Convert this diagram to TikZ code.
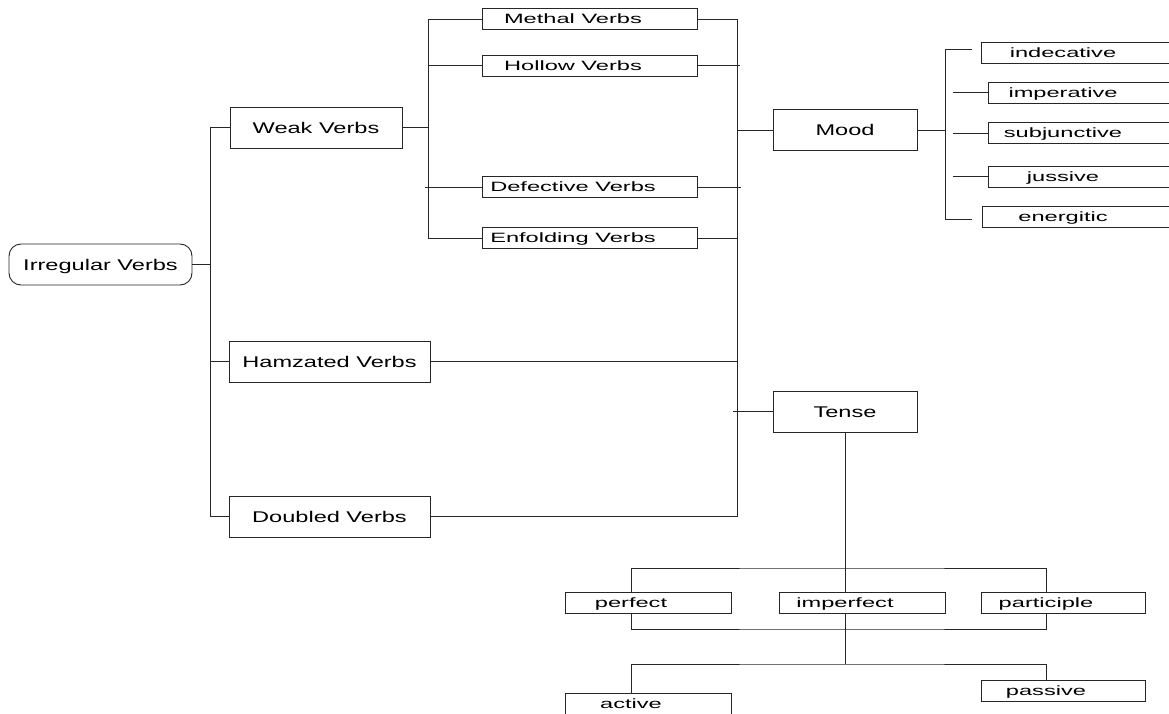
\documentclass[tikz,border=0pt]{standalone}
\usepackage{fontspec}
\newfontfamily\bigfont{Liberation Sans}[FakeStretch=1.52]
\newfontfamily\smallfont{Liberation Sans}[FakeStretch=1.75]
\begin{document}
\begin{tikzpicture}[x=1pt,y=-1pt,line width=0.9pt,color=black!85,
bigbox/.style={draw,rectangle,inner sep=0pt,minimum height=41pt,text height=11.1pt,text depth=0pt,text=black,font=\bigfont\fontsize{15.5}{18}\selectfont},
smallbox/.style={draw,rectangle,inner sep=0pt,minimum height=21pt,text height=9.7pt,text depth=0pt,text=black,font=\smallfont\fontsize{13.5}{16}\selectfont,execute at end node={\hspace*{34pt}}}]
\useasboundingbox (0,0) rectangle (1169,714);
\clip (0,0) rectangle (1169,714);
% main branches
\node[bigbox,rounded corners=12pt,minimum width=183pt] (irr) at (100.5,264.5) {Irregular Verbs};
\node[bigbox,minimum width=172pt] (weak) at (316,127.5) {Weak Verbs};
\node[bigbox,minimum width=201pt] (hamz) at (329.5,361.5) {Hamzated Verbs};
\node[bigbox,minimum width=201pt] (doub) at (329.5,516.5) {Doubled Verbs};
\node[bigbox,minimum width=144pt] (mood) at (845,130) {Mood};
\node[bigbox,minimum width=144pt] (tense) at (845,411.5) {Tense};
% weak verbs
\node[smallbox,minimum width=215pt] (methal) at (590,19) {Methal Verbs};
\node[smallbox,minimum width=215pt] (hollow) at (590,65.5) {Hollow Verbs};
\node[smallbox,minimum width=215pt] (defect) at (590,187) {Defective Verbs};
\node[smallbox,minimum width=215pt] (enfold) at (590,238) {Enfolding Verbs};
% mood
\node[smallbox,minimum width=198pt] (ind) at (1080,53) {indecative};
\node[smallbox,minimum width=184pt] (imp) at (1080,92.5) {imperative};
\node[smallbox,minimum width=184pt] (subj) at (1080,133) {subjunctive};
\node[smallbox,minimum width=184pt] (juss) at (1080,176.5) {jussive};
\node[smallbox,minimum width=196pt] (ener) at (1080,217) {energitic};
% tense
\node[smallbox,minimum width=166pt] (perf) at (648,602.5) {perfect};
\node[smallbox,minimum width=166pt] (imperf) at (862,602.5) {imperfect};
\node[smallbox,minimum width=164pt] (part) at (1063,602.5) {participle};
\node[smallbox,minimum width=166pt] (act) at (648,703.5) {active};
\node[smallbox,minimum width=164pt] (pass) at (1063,691) {passive};
% junctions
\coordinate (j1) at (210,264.5);
\coordinate (j2) at (428,127.5);
\coordinate (j3) at (737,130);
\coordinate (j4) at (945,130);
\coordinate (k1) at (845,568);
\coordinate (k2) at (845,629);
\coordinate (k3) at (845,664);
% connectors
\draw (irr.east) -- (j1);
\draw (weak.west) -- (weak.west -| j1) -- (doub.west -| j1) -- (doub.west);
\draw (hamz.west) -- (hamz.west -| j1);
\draw (weak.east) -- (j2);
\draw (methal.west) -- (methal.west -| j2) -- (enfold.west -| j2) -- (enfold.west);
\draw (hollow.west) -- (hollow.west -| j2);
\draw (defect.west) -- ([xshift=-3pt]defect.west -| j2);
\draw (methal.east) -- (methal.east -| j3) -- (doub.east -| j3) -- (doub.east);
\draw (hollow.east) -- ([xshift=3pt]hollow.east -| j3);
\draw (defect.east) -- ([xshift=4pt]defect.east -| j3);
\draw (enfold.east) -- (enfold.east -| j3);
\draw (hamz.east) -- (hamz.east -| j3);
\draw (j3) -- (mood.west);
\draw ([xshift=-4pt]tense.west -| j3) -- (tense.west);
\draw (mood.east) -- (j4);
\draw ([xshift=-9pt,yshift=4pt]ind.west) -- ([yshift=4pt]ind.west -| j4) -- ([yshift=-2pt]ener.west -| j4) -- ([xshift=-10pt,yshift=-2pt]ener.west);
\foreach \n in {imp,subj,juss}
  \draw (\n.west) -- ++(-35,0);
\draw (tense.south) -- (k1) -- (k1 |- imperf.north);
\draw ([xshift=-17pt]perf.north) |- (k1) -| ([xshift=-17pt]part.north);
\draw ([xshift=-17pt]perf.south) |- (k2) -| ([xshift=-17pt]part.south);
\draw ([xshift=-17pt]imperf.south) -- (k3);
\draw ([xshift=-17pt]act.north) |- (k3) -| ([xshift=-17pt]pass.north);
\end{tikzpicture}
\end{document}
